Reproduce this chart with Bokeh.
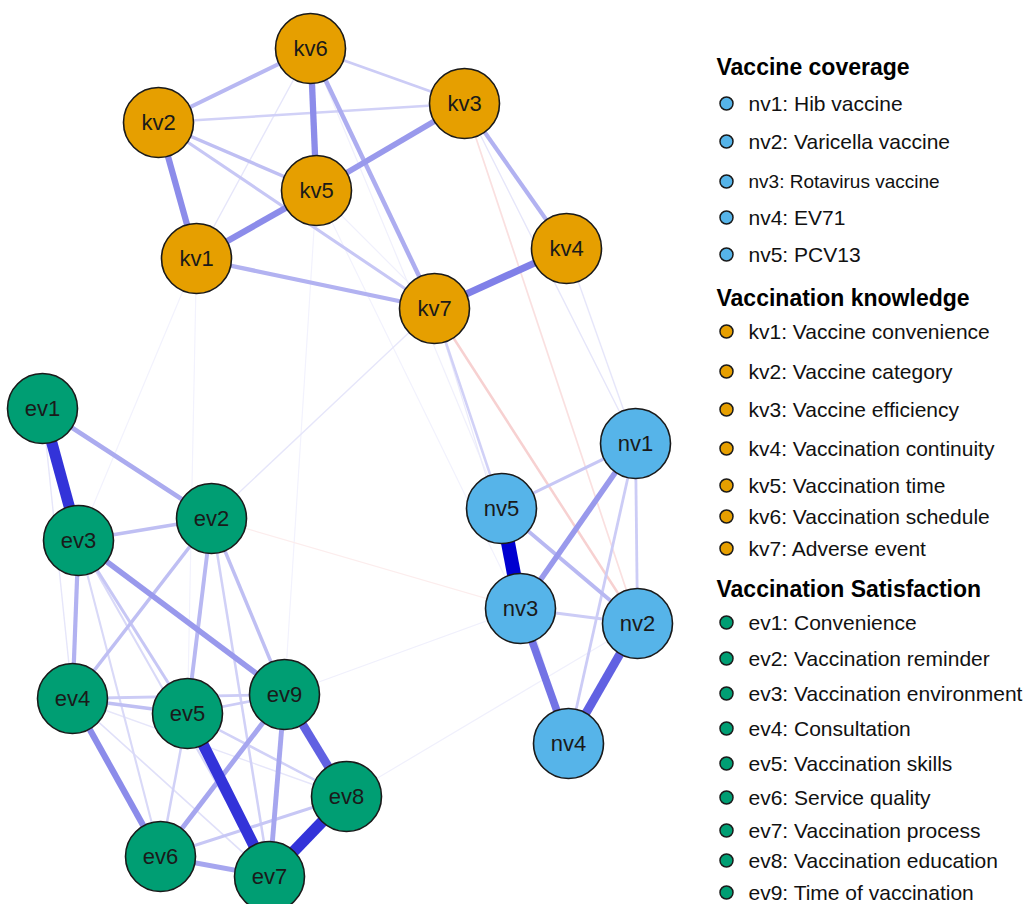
from bokeh.plotting import figure
from bokeh.models import Range1d, ColumnDataSource
from bokeh.embed import file_html
from bokeh.resources import INLINE
from bokeh.core.properties import value

# ---------------- data ----------------
node_names = ["kv1", "kv2", "kv3", "kv4", "kv5", "kv6", "kv7",
              "ev1", "ev2", "ev3", "ev4", "ev5", "ev6", "ev7", "ev8", "ev9",
              "nv1", "nv2", "nv3", "nv4", "nv5"]
node_group = ["kv"] * 7 + ["ev"] * 9 + ["nv"] * 5
# network layout coordinates
node_x = [196, 158, 464, 566, 316, 310, 434,
          42, 211, 78, 72, 187, 160, 269, 346, 284,
          635, 637, 520, 568, 501]
node_y = [258, 122, 103, 248, 190, 48, 308,
          408, 518, 540, 698, 713, 856, 876, 796, 694,
          443, 623, 608, 743, 508]

edge_from = ["nv5", "ev1", "ev5", "ev7", "ev9", "nv2", "nv3", "kv4", "kv2", "kv5",
             "kv6", "ev4", "kv3", "ev3", "nv3", "kv6", "ev9", "ev9", "ev6", "ev1",
             "kv1", "kv3", "kv6", "nv5", "ev2", "ev3", "kv2", "ev2", "ev2", "kv2",
             "ev4", "ev3", "ev2", "ev8", "ev5", "nv5", "kv6", "kv2", "ev4", "ev5",
             "ev5", "nv3", "nv1", "nv1", "ev2", "ev3", "ev3", "ev4", "kv7", "ev5",
             "ev4", "kv6", "ev1", "kv3", "kv4", "kv7", "kv3", "ev2", "kv6",
             "kv1", "kv1", "kv5", "ev9", "ev8", "kv5", "kv7", "ev2", "kv5"]
edge_to = ["nv3", "ev3", "ev7", "ev8", "ev8", "nv4", "nv4", "kv7", "kv1", "kv1",
           "kv5", "ev6", "kv5", "ev9", "nv1", "kv7", "ev6", "ev7", "ev7", "ev2",
           "kv7", "kv4", "kv2", "nv2", "ev5", "ev4", "kv5", "ev3", "ev4", "kv7",
           "ev5", "ev5", "ev9", "ev6", "ev9", "nv1", "kv3", "kv3", "ev9", "ev6",
           "ev8", "nv2", "nv2", "nv4", "ev7", "ev6", "ev7", "ev7", "nv5", "ev2",
           "ev8", "kv1", "ev4", "nv1", "nv1", "nv2", "nv2", "kv7", "nv5",
           "ev3", "ev5", "ev9", "nv3", "nv2", "kv7", "nv4", "nv3", "nv3"]
edge_weight = [1.00, 0.80, 0.80, 0.80, 0.62, 0.62, 0.55, 0.50, 0.45, 0.45,
               0.45, 0.45, 0.40, 0.40, 0.40, 0.32, 0.35, 0.35, 0.35, 0.33,
               0.30, 0.30, 0.28, 0.28, 0.28, 0.30, 0.25, 0.25, 0.25, 0.22,
               0.25, 0.22, 0.25, 0.22, 0.20, 0.22, 0.20, 0.18, 0.20, 0.18,
               0.18, 0.20, 0.20, 0.20, 0.18, 0.15, 0.15, 0.12, 0.18, 0.15,
               0.10, 0.10, 0.10, 0.10, 0.10, -0.18, -0.12, 0.10, 0.06,
               0.05, 0.05, 0.05, 0.06, 0.06, 0.06, 0.08, -0.07, 0.05]

legend_titles = ["Vaccine coverage", "Vaccination knowledge", "Vaccination Satisfaction"]
legend_groups = ["nv", "kv", "ev"]
legend_labels = [
    ["nv1: Hib vaccine", "nv2: Varicella vaccine", "nv3: Rotavirus vaccine", "nv4: EV71", "nv5: PCV13"],
    ["kv1: Vaccine convenience", "kv2: Vaccine category", "kv3: Vaccine efficiency",
     "kv4: Vaccination continuity", "kv5: Vaccination time", "kv6: Vaccination schedule",
     "kv7: Adverse event"],
    ["ev1: Convenience", "ev2: Vaccination reminder", "ev3: Vaccination environment",
     "ev4: Consultation", "ev5: Vaccination skills", "ev6: Service quality",
     "ev7: Vaccination process", "ev8: Vaccination education", "ev9: Time of vaccination"],
]

# ---------------- styles / layout ----------------
group_colors = {"kv": "#E69F00", "ev": "#009E73", "nv": "#56B4E9"}
legend_title_y = [66, 297, 588]
legend_item_y = [
    [103, 141, 181, 217, 254],
    [331, 371, 409, 448, 485, 516, 548],
    [622, 658, 693, 728, 763, 797, 830, 860, 892],
]
FONT = "Liberation Sans"
W, H = 1030, 904

pos = {n: (x, y) for n, x, y in zip(node_names, node_x, node_y)}


def edge_color(w):
    a = min(abs(w), 1.0)
    if w >= 0:
        base = (0, 0, 208)
    else:
        base = (213, 0, 0)
    r = int(round(255 * (1 - a) + base[0] * a))
    g = int(round(255 * (1 - a) + base[1] * a))
    b = int(round(255 * (1 - a) + base[2] * a))
    return "#%02x%02x%02x" % (r, g, b)


order = sorted(range(len(edge_weight)), key=lambda i: abs(edge_weight[i]))
esrc = ColumnDataSource(dict(
    x0=[pos[edge_from[i]][0] for i in order],
    y0=[pos[edge_from[i]][1] for i in order],
    x1=[pos[edge_to[i]][0] for i in order],
    y1=[pos[edge_to[i]][1] for i in order],
    color=[edge_color(edge_weight[i]) for i in order],
    width=[max(1.2, 14 * abs(edge_weight[i])) for i in order],
))

p = figure(width=W, height=H, output_backend="svg", toolbar_location=None,
           x_range=Range1d(0, W), y_range=Range1d(H, 0), min_border=0)
p.axis.visible = False
p.grid.visible = False
p.outline_line_color = None
p.background_fill_color = "white"

p.segment("x0", "y0", "x1", "y1", source=esrc, line_color="color", line_width="width")

nsrc = ColumnDataSource(dict(x=node_x, y=node_y, name=node_names,
                             color=[group_colors[g] for g in node_group]))
p.scatter("x", "y", source=nsrc, size=70, fill_color="color", line_color="#1a1a1a",
          line_width=1.6)
p.text("x", "y", text="name", source=nsrc, text_align="center", text_baseline="middle",
       text_font=value(FONT), text_font_size="22px", text_color="#1a1a1a")

# legend
for gi, title in enumerate(legend_titles):
    p.text(x=[716], y=[legend_title_y[gi]], text=[title], text_font=value(FONT),
           text_font_size="23px", text_font_style="bold", text_baseline="middle",
           text_color="black")
    labs = legend_labels[gi]
    ys = legend_item_y[gi]
    p.scatter(x=[726] * len(labs), y=ys, size=13, fill_color=group_colors[legend_groups[gi]],
              line_color="#1a1a1a", line_width=1.5)
    sizes = ["21px"] * len(labs)
    if legend_groups[gi] == "nv":
        sizes[2] = "19px"
    lsrc = ColumnDataSource(dict(x=[748] * len(labs), y=ys, t=labs, s=sizes))
    p.text("x", "y", text="t", source=lsrc, text_font=value(FONT), text_font_size="s",
           text_baseline="middle", text_color="#111111")

open("out.html", "w").write(file_html(p, INLINE))
